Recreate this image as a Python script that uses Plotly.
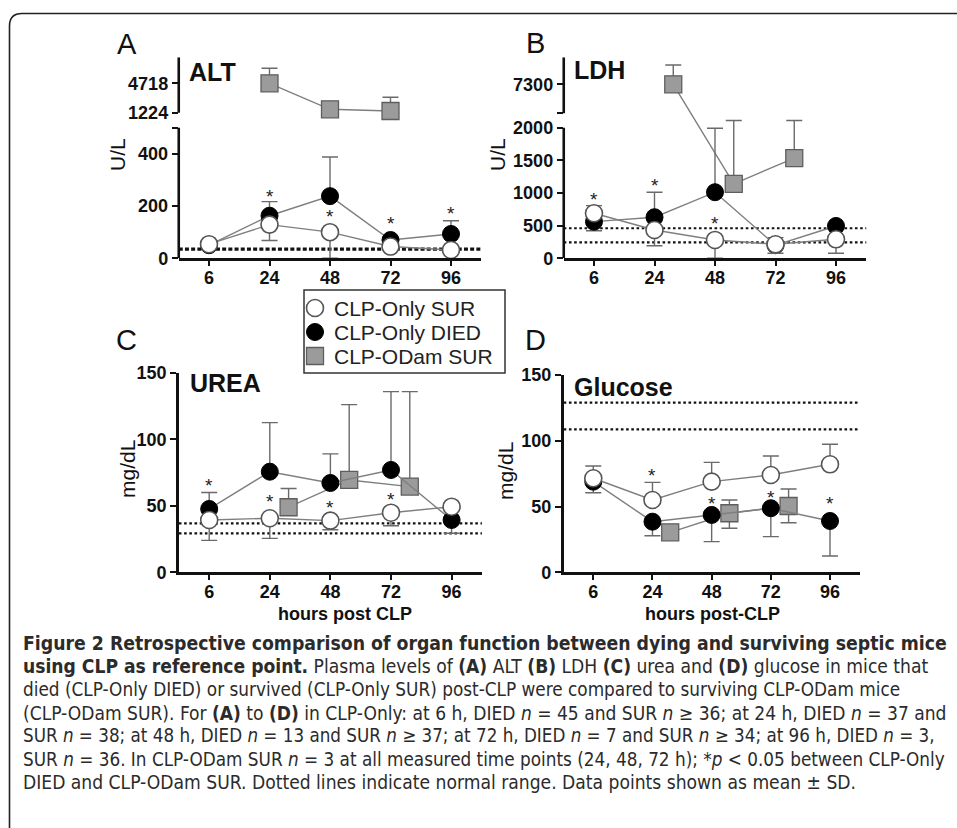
import plotly.graph_objects as go

W, H = 957, 828

HOURS = [6, 24, 48, 72, 96]
ODAM_HOURS = [24, 48, 72]
SERIES_NAMES = ["CLP-Only SUR", "CLP-Only DIED", "CLP-ODam SUR"]

# ---------------- A: ALT (U/L) ----------------
alt_sur = [54, 129, 100, 45, 32]
alt_sur_err_up = [0, 0, 0, 0, 0]
alt_sur_err_dn = [8, 61, 100, 12, 8]
alt_died = [50, 163, 238, 70, 93]
alt_died_err_up = [8, 54, 150, 10, 51]
alt_died_err_dn = [0, 0, 0, 0, 0]
alt_odam = [4718, 1628, 1426]
alt_odam_err_up = [1782, 800, 1630]
alt_odam_err_dn = [0, 0, 0]
alt_normal = [35]
alt_star_hours = [24, 48, 72, 96]
alt_star_y = [250, 177, 150, 185]
alt_low_ticks = [0, 200, 400, 500]
alt_low_labels = ["0", "200", "400", ""]
alt_up_ticks = [1224, 4718]
alt_up_labels = ["1224", "4718"]

# ---------------- B: LDH (U/L) ----------------
ldh_sur = [690, 434, 281, 215, 291]
ldh_sur_err_up = [117, 0, 0, 0, 0]
ldh_sur_err_dn = [0, 241, 281, 138, 214]
ldh_died = [561, 629, 1012, 200, 495]
ldh_died_err_up = [0, 383, 979, 116, 0]
ldh_died_err_dn = [138, 0, 0, 0, 0]
ldh_odam = [7300, 1140, 1534]
ldh_odam_err_up = [1530, 970, 576]
ldh_odam_err_dn = [0, 0, 0]
ldh_normal = [245, 460]
ldh_star_hours = [6, 24, 48]
ldh_star_y = [959, 1173, 587]
ldh_low_ticks = [0, 500, 1000, 1500, 2000]
ldh_low_labels = ["0", "500", "1000", "1500", "2000"]
ldh_up_ticks = [5000, 7300]
ldh_up_labels = ["", "7300"]

# ---------------- C: Urea (mg/dL) ----------------
urea_sur = [39.3, 40.6, 38.8, 44.8, 49.3]
urea_sur_err_up = [0, 0, 0, 0, 0]
urea_sur_err_dn = [15.3, 15.1, 6.8, 9.8, 0]
urea_died = [47.6, 75.6, 67.1, 76.9, 39.3]
urea_died_err_up = [12.4, 36.9, 21.9, 58.9, 0]
urea_died_err_dn = [0, 0, 0, 0, 10]
urea_odam = [48.9, 69.4, 64.4]
urea_odam_err_up = [14.1, 56.6, 71.4]
urea_odam_err_dn = [0, 0, 0]
urea_normal = [29.3, 36.8]
urea_star_hours = [6, 24, 48, 72]
urea_star_y = [68, 56, 52, 58]

# ---------------- D: Glucose (mg/dL) ----------------
glu_sur = [71.5, 55, 68.9, 74, 82.1]
glu_sur_err_up = [9.3, 13.4, 14.7, 14.4, 15.2]
glu_sur_err_dn = [0, 0, 0, 0, 0]
glu_died = [68.9, 38.5, 43.6, 48.7, 39]
glu_died_err_up = [0, 0, 0, 0, 0]
glu_died_err_dn = [8.4, 10.7, 20.3, 21.6, 26.6]
glu_odam = [30.4, 44.9, 50.4]
glu_odam_err_up = [3, 10.1, 12.9]
glu_odam_err_dn = [3, 11.4, 12.7]
glu_normal = [108.7, 129]
glu_star_hours = [24, 48, 72, 96]
glu_star_y = [76.5, 55, 60, 55.7]

plain_ticks = [0, 50, 100, 150]

CAPTION = [
    "<b>Figure 2 Retrospective comparison of organ function between dying and surviving septic mice</b>",
    "<b>using CLP as reference point.</b> Plasma levels of <b>(A)</b> ALT <b>(B)</b> LDH <b>(C)</b> urea and <b>(D)</b> glucose in mice that",
    "died (CLP-Only DIED) or survived (CLP-Only SUR) post-CLP were compared to surviving CLP-ODam mice",
    "(CLP-ODam SUR). For <b>(A)</b> to <b>(D)</b> in CLP-Only: at 6 h, DIED <i>n</i> = 45 and SUR <i>n</i> \u2265 36; at 24 h, DIED <i>n</i> = 37 and",
    "SUR <i>n</i> = 38; at 48 h, DIED <i>n</i> = 13 and SUR <i>n</i> \u2265 37; at 72 h, DIED <i>n</i> = 7 and SUR <i>n</i> \u2265 34; at 96 h, DIED <i>n</i> = 3,",
    "SUR <i>n</i> = 36. In CLP-ODam SUR <i>n</i> = 3 at all measured time points (24, 48, 72 h); *<i>p</i> &lt; 0.05 between CLP-Only",
    "DIED and CLP-ODam SUR. Dotted lines indicate normal range. Data points shown as mean \u00b1 SD.",
]
# per-line font sizes so each caption line spans the same width as in the original typesetting
CAPTION_SIZES = [19.25, 19.1, 18.8, 19.05, 18.65, 18.75, 19.1]

# ---------------------------------------------------------------
FONT = "Liberation Sans, Arial, sans-serif"
CAP_FONT = "DejaVu Sans Condensed, Noto Sans, sans-serif"


def fx(px):
    return px / W


def fy(py):
    return 1 - py / H


def broken_map(low_max, low_h, up_lo, up_hi, up_u0, up_u1):
    def seg_of(v):
        return "up" if v > low_max * 1.2 else "low"

    def f(v, seg):
        if seg == "low":
            return v / low_max * low_h
        return up_u0 + (v - up_lo) / (up_hi - up_lo) * (up_u1 - up_u0)

    return f, seg_of


def plain_map():
    return (lambda v, seg: v), (lambda v: "low")


panels = [
    dict(key="", x0=178.75, x1=481.25, yb=258.3, yt=57.3, dodge=0.0,
         broken=dict(low_max=500, low_top=127.7, up_lo=1224, up_hi=7808, up_bot=112.7, up_top=57.3),
         sur=(alt_sur, alt_sur_err_up, alt_sur_err_dn),
         died=(alt_died, alt_died_err_up, alt_died_err_dn),
         odam=(alt_odam, alt_odam_err_up, alt_odam_err_dn),
         normal=alt_normal, ndash="4px,2.2px", nwidth=3.2,
         stars=(alt_star_hours, alt_star_y),
         ticks=(alt_low_ticks, alt_low_labels, alt_up_ticks, alt_up_labels),
         letter="A", lx=127, ly=44, title="ALT", tx=187, ty=72,
         ytitle="U/L", ytx=118, yty=155),
    dict(key="2", x0=563.75, x1=866.25, yb=258.3, yt=57.3, dodge=0.31,
         broken=dict(low_max=2000, low_top=127.7, up_lo=5000, up_hi=9441, up_bot=113.3, up_top=57.3),
         sur=(ldh_sur, ldh_sur_err_up, ldh_sur_err_dn),
         died=(ldh_died, ldh_died_err_up, ldh_died_err_dn),
         odam=(ldh_odam, ldh_odam_err_up, ldh_odam_err_dn),
         normal=ldh_normal, ndash="2.6px,2.6px", nwidth=2.2,
         stars=(ldh_star_hours, ldh_star_y),
         ticks=(ldh_low_ticks, ldh_low_labels, ldh_up_ticks, ldh_up_labels),
         letter="B", lx=535, ly=43, title="LDH", tx=572, ty=70,
         ytitle="U/L", ytx=498, yty=155),
    dict(key="3", x0=178.9, x1=481.9, yb=572.3, yt=372.7, dodge=0.31, broken=None,
         sur=(urea_sur, urea_sur_err_up, urea_sur_err_dn),
         died=(urea_died, urea_died_err_up, urea_died_err_dn),
         odam=(urea_odam, urea_odam_err_up, urea_odam_err_dn),
         normal=urea_normal, ndash="2.6px,2.6px", nwidth=2.2,
         stars=(urea_star_hours, urea_star_y),
         ticks=(plain_ticks, [str(t) for t in plain_ticks], [], []),
         letter="C", lx=127, ly=340, title="UREA", tx=188, ty=383,
         ytitle="mg/dL", ytx=128, yty=469,
         xtitle="hours post CLP", xtx=345, xty=614),
    dict(key="4", x0=563.7, x1=859.6, yb=572.3, yt=375.0, dodge=0.30, broken=None,
         sur=(glu_sur, glu_sur_err_up, glu_sur_err_dn),
         died=(glu_died, glu_died_err_up, glu_died_err_dn),
         odam=(glu_odam, glu_odam_err_up, glu_odam_err_dn),
         normal=glu_normal, ndash="2.6px,2.6px", nwidth=2.2,
         stars=(glu_star_hours, glu_star_y),
         ticks=(plain_ticks, [str(t) for t in plain_ticks], [], []),
         letter="D", lx=535, ly=340, title="Glucose", tx=572, ty=387,
         ytitle="mg/dL", ytx=505, yty=471,
         xtitle="hours post-CLP", xtx=712, xty=614),
]

SERIES_STYLE = {
    "odam": dict(symbol="square", size=17, color="#9b9b9b", line=dict(color="#5e5e5e", width=1.3)),
    "died": dict(symbol="circle", size=17, color="#000000", line=dict(color="#000000", width=1)),
    "sur": dict(symbol="circle", size=17, color="#ffffff", line=dict(color="#555555", width=1.6)),
}

fig = go.Figure()
layout = {}
shapes = []
annotations = []

LINE_COL = "#7f7f7f"
ERR_COL = "#6a6a6a"


def ann(x, y, text, size, bold=False, xanchor="center", angle=0, color="#111111", family=FONT):
    return dict(x=fx(x), y=fy(y), xref="paper", yref="paper", xanchor=xanchor, yanchor="middle",
                text=("<b>" + text + "</b>") if bold else text, showarrow=False, textangle=angle,
                align="left", font=dict(family=family, size=size, color=color))


for p in panels:
    k = p["key"]
    xref, yref = "x" + k, "y" + k
    if p["broken"]:
        b = p["broken"]
        low_h = p["yb"] - b["low_top"]
        f, seg_of = broken_map(b["low_max"], low_h, b["up_lo"], b["up_hi"],
                               p["yb"] - b["up_bot"], p["yb"] - b["up_top"])
        yrange = [0, p["yb"] - p["yt"]]
    else:
        f, seg_of = plain_map()
        yrange = [0, 150]

    def tr(vals, up, dn):
        ys, ep, em = [], [], []
        for v, u, d in zip(vals, up, dn):
            s = seg_of(v)
            y = f(v, s)
            ys.append(y)
            ep.append(f(v + u, s) - y)
            em.append(y - f(v - d, s))
        return ys, ep, em

    xi = list(range(len(HOURS)))
    xo = [HOURS.index(h) + p["dodge"] for h in ODAM_HOURS]

    for name, xs in [("odam", xo), ("died", xi), ("sur", xi)]:
        vals, up, dn = p[name]
        ys, ep, em = tr(vals, up, dn)
        fig.add_trace(go.Scatter(
            x=xs, y=ys, xaxis=xref, yaxis=yref, mode="lines+markers", showlegend=False,
            line=dict(color=LINE_COL, width=1.4), marker=SERIES_STYLE[name],
            error_y=dict(type="data", symmetric=False, array=ep, arrayminus=em,
                         color=ERR_COL, thickness=1.4, width=8),
            hoverinfo="skip",
        ))

    for nv in p["normal"]:
        yv = f(nv, "low")
        shapes.append(dict(type="line", xref=xref + " domain", yref=yref, x0=0, x1=1, y0=yv, y1=yv,
                           line=dict(color="#111111", width=p["nwidth"], dash=p["ndash"]), layer="below"))

    for h, sv in zip(*p["stars"]):
        annotations.append(dict(x=HOURS.index(h), y=f(sv, "low"), xref=xref, yref=yref, text="*",
                                showarrow=False, yshift=-4, xanchor="center", yanchor="middle",
                                font=dict(family=FONT, size=19, color="#222222")))

    low_t, low_l, up_t, up_l = p["ticks"]
    tickvals = [f(t, "low") for t in low_t] + [f(t, "up") for t in up_t]
    ticktext = list(low_l) + list(up_l)

    layout["xaxis" + k] = dict(
        domain=[fx(p["x0"]), fx(p["x1"])], anchor=yref, range=[-0.5, 4.5],
        tickmode="array", tickvals=xi, ticktext=[str(h) for h in HOURS],
        showline=True, linecolor="#111111", linewidth=2.6, ticks="outside", ticklen=5,
        tickwidth=2, tickcolor="#111111", showgrid=False, zeroline=False, automargin=False,
        ticklabelstandoff=-4,
        tickfont=dict(family=FONT, size=18, color="#111111", weight="bold"), fixedrange=True)
    layout["yaxis" + k] = dict(
        domain=[fy(p["yb"]), fy(p["yt"])], anchor=xref, range=yrange,
        tickmode="array", tickvals=tickvals, ticktext=ticktext,
        showline=p["broken"] is None, linecolor="#111111", linewidth=2.6, ticks="outside",
        ticklen=6, tickwidth=2.4, tickcolor="#111111", showgrid=False, zeroline=False, automargin=False,
        tickfont=dict(family=FONT, size=18, color="#111111", weight="bold"), fixedrange=True)

    if p["broken"]:
        b = p["broken"]
        for y0, y1 in [(0, f(b["low_max"], "low")), (f(b["up_lo"], "up"), f(b["up_hi"], "up"))]:
            shapes.append(dict(type="line", xref=xref + " domain", yref=yref, x0=0, x1=0, y0=y0, y1=y1,
                               line=dict(color="#111111", width=2.6)))

    annotations.append(ann(p["lx"], p["ly"], p["letter"], 29))
    annotations.append(ann(p["tx"], p["ty"], p["title"], 25, bold=True, xanchor="left"))
    annotations.append(ann(p["ytx"], p["yty"], p["ytitle"], 21, angle=-90))
    if "xtitle" in p:
        annotations.append(ann(p["xtx"], p["xty"], p["xtitle"], 18, bold=True))

# ---- legend (box, symbols, labels) ----
LEG = dict(x0=304, x1=505, y0=290, y1=373)
shapes.append(dict(type="rect", xref="paper", yref="paper", x0=fx(LEG["x0"]), x1=fx(LEG["x1"]),
                   y0=fy(LEG["y1"]), y1=fy(LEG["y0"]), fillcolor="white",
                   line=dict(color="#333333", width=1.5), layer="below"))
leg_rows = [308, 332, 356]
layout["xaxis5"] = dict(domain=[fx(LEG["x0"]), fx(LEG["x1"])], range=[LEG["x0"], LEG["x1"]],
                        visible=False, anchor="y5", fixedrange=True)
layout["yaxis5"] = dict(domain=[fy(LEG["y1"]), fy(LEG["y0"])], range=[LEG["y1"], LEG["y0"]],
                        visible=False, anchor="x5", fixedrange=True)
for name, row in zip(["sur", "died", "odam"], leg_rows):
    fig.add_trace(go.Scatter(x=[315], y=[row], xaxis="x5", yaxis="y5", mode="markers",
                             marker=SERIES_STYLE[name], showlegend=False, hoverinfo="skip"))
for label, row in zip(SERIES_NAMES, leg_rows):
    annotations.append(ann(332, row, label, 21, xanchor="left", color="#222222"))

# ---- caption ----
for i, (line, sz) in enumerate(zip(CAPTION, CAPTION_SIZES)):
    annotations.append(ann(21, 643 + i * 23.2, line, sz, xanchor="left", color="#2b2b2b",
                           family=CAP_FONT))

# rounded frame (top + left edges)
shapes.append(dict(type="path", xref="paper", yref="paper",
                   path=f"M {fx(9.5)},{fy(830)} L {fx(9.5)},{fy(26)} Q {fx(9.5)},{fy(13.5)} {fx(22)},{fy(13.5)} L {fx(960)},{fy(13.5)}",
                   line=dict(color="#222222", width=1.6)))

fig.update_layout(
    width=W, height=H, autosize=False,
    margin=dict(l=0, r=0, t=0, b=0, pad=0),
    paper_bgcolor="white", plot_bgcolor="rgba(0,0,0,0)",
    shapes=shapes, annotations=annotations,
    showlegend=False,
    **layout,
)

fig.write_html("out.html", config={"displayModeBar": False},
               post_script="document.body.style.margin='0';document.body.style.overflow='hidden';")
